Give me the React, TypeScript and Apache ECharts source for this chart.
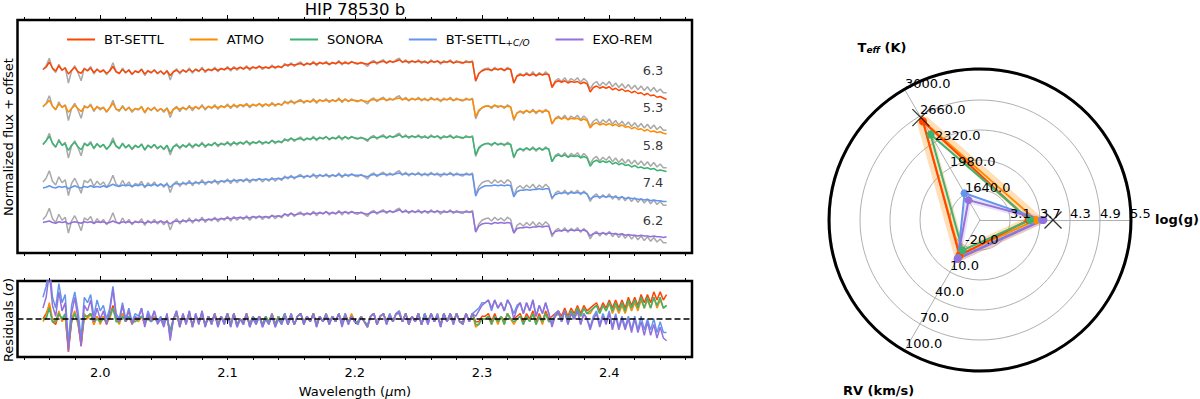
import React, { useEffect, useRef } from 'react';
import * as echarts from 'echarts';

const FONT = 'DejaVu Sans';
const MODELS = ['BT-SETTL', 'ATMO', 'SONORA', 'BT-SETTL+C/O', 'EXO-REM'];
const COLORS = ['#ff4500', '#ff8c00', '#3cb371', '#6495ed', '#9370db'];
const GREY = '#a9a9a9';
const OFFSETS = [2.0, 1.5, 1.0, 0.5, 0.0];
const CHI2 = ['6.3', '5.3', '5.8', '7.4', '6.2'];

const WL_START = 1.955;
const WL_STEP = 0.0025;
const X_MIN = 1.935;
const X_MAX = 2.465;
const MAJOR_TICKS = [2.0, 2.1, 2.2, 2.3, 2.4];
const MINOR_TICKS = [1.94, 1.96, 1.98, 2.0, 2.02, 2.04, 2.06, 2.08, 2.1, 2.12, 2.14, 2.16, 2.18, 2.2, 2.22, 2.24, 2.26, 2.28, 2.3, 2.32, 2.34, 2.36, 2.38, 2.4, 2.42, 2.44, 2.46];

const OBS = [
  0.90, 0.95, 1.05, 0.91, 0.86, 0.97, 0.89, 0.93, 0.72, 0.88, 0.95, 0.86, 0.75, 0.92, 0.89, 0.94, 0.84, 0.91, 0.86, 0.90,
  0.83, 0.89, 0.99, 0.87, 0.84, 0.92, 0.85, 0.90, 0.83, 0.88, 0.86, 0.91, 0.82, 0.89, 0.85, 0.90, 0.84, 0.88, 0.83, 0.89,
  0.76, 0.87, 0.91, 0.84, 0.90, 0.86, 0.92, 0.85, 0.91, 0.87, 0.93, 0.86, 0.91, 0.88, 0.93, 0.87, 0.92, 0.89, 0.94, 0.88,
  0.94, 0.89, 0.93, 0.90, 0.95, 0.89, 0.94, 0.91, 0.95, 0.90, 0.94, 0.91, 0.96, 0.91, 0.95, 0.92, 0.98, 0.94, 0.99, 0.94,
  0.98, 1.00, 0.95, 0.99, 0.96, 1.01, 0.95, 1.00, 0.97, 1.01, 0.96, 1.00, 0.97, 1.02, 0.96, 1.01, 0.97, 1.01, 0.98, 0.97,
  1.00, 0.97, 0.94, 1.00, 1.02, 0.97, 1.01, 1.03, 0.98, 1.02, 0.99, 1.03, 1.05, 0.99, 1.03, 0.98, 1.02, 0.99, 1.03, 0.98,
  1.02, 0.98, 1.03, 0.99, 1.02, 0.97, 1.02, 0.99, 1.03, 0.98, 1.02, 0.99, 0.98, 1.02, 0.99, 1.02, 0.74, 0.84, 0.89, 0.91,
  0.92, 0.88, 0.93, 0.89, 0.92, 0.88, 0.93, 0.90, 0.72, 0.82, 0.85, 0.81, 0.86, 0.82, 0.87, 0.81, 0.86, 0.82, 0.87, 0.83,
  0.67, 0.75, 0.78, 0.74, 0.79, 0.73, 0.78, 0.75, 0.79, 0.73, 0.78, 0.74, 0.64, 0.71, 0.74, 0.68, 0.73, 0.69, 0.74, 0.67,
  0.72, 0.66, 0.71, 0.65, 0.70, 0.64, 0.69, 0.63, 0.68, 0.62, 0.67, 0.61, 0.66, 0.60, 0.64, 0.59, 0.59];

const BT_SETTL = [
  0.90, 0.93, 1.00, 0.92, 0.88, 0.95, 0.89, 0.92, 0.84, 0.89, 0.93, 0.87, 0.85, 0.91, 0.88, 0.92, 0.86, 0.90, 0.87, 0.89,
  0.85, 0.88, 0.94, 0.87, 0.85, 0.90, 0.86, 0.89, 0.84, 0.88, 0.86, 0.90, 0.84, 0.88, 0.86, 0.89, 0.85, 0.88, 0.84, 0.88,
  0.82, 0.87, 0.89, 0.86, 0.89, 0.87, 0.90, 0.87, 0.90, 0.88, 0.91, 0.88, 0.90, 0.89, 0.91, 0.89, 0.91, 0.90, 0.92, 0.90,
  0.92, 0.91, 0.93, 0.91, 0.93, 0.91, 0.93, 0.92, 0.94, 0.92, 0.93, 0.92, 0.94, 0.93, 0.94, 0.93, 0.96, 0.96, 0.97, 0.96,
  0.97, 0.98, 0.96, 0.98, 0.97, 0.99, 0.97, 0.99, 0.98, 0.99, 0.97, 0.99, 0.98, 1.00, 0.98, 0.99, 0.98, 1.00, 0.99, 0.98,
  0.99, 0.98, 0.97, 0.99, 1.00, 0.99, 1.00, 1.01, 0.99, 1.01, 1.00, 1.01, 1.03, 1.00, 1.01, 1.00, 1.01, 1.00, 1.01, 1.00,
  1.00, 0.99, 1.01, 1.00, 1.01, 0.99, 1.00, 1.00, 1.01, 0.99, 1.00, 1.00, 0.99, 1.00, 1.00, 1.00, 0.75, 0.85, 0.88, 0.90,
  0.90, 0.89, 0.91, 0.90, 0.91, 0.89, 0.91, 0.90, 0.72, 0.81, 0.83, 0.82, 0.84, 0.82, 0.84, 0.82, 0.84, 0.83, 0.84, 0.83,
  0.66, 0.73, 0.75, 0.73, 0.75, 0.72, 0.74, 0.73, 0.74, 0.71, 0.73, 0.71, 0.60, 0.66, 0.68, 0.65, 0.67, 0.65, 0.67, 0.63,
  0.65, 0.62, 0.64, 0.61, 0.62, 0.59, 0.61, 0.58, 0.59, 0.56, 0.58, 0.55, 0.56, 0.53, 0.54, 0.52, 0.50];

const ATMO = [
  0.91, 0.94, 0.99, 0.91, 0.87, 0.94, 0.90, 0.92, 0.83, 0.88, 0.92, 0.88, 0.84, 0.90, 0.89, 0.92, 0.86, 0.90, 0.88, 0.89,
  0.84, 0.89, 0.95, 0.87, 0.86, 0.90, 0.86, 0.89, 0.85, 0.88, 0.87, 0.90, 0.83, 0.89, 0.86, 0.89, 0.85, 0.88, 0.85, 0.88,
  0.81, 0.87, 0.89, 0.87, 0.89, 0.87, 0.90, 0.88, 0.90, 0.88, 0.91, 0.88, 0.91, 0.89, 0.91, 0.89, 0.91, 0.90, 0.92, 0.90,
  0.92, 0.91, 0.93, 0.92, 0.93, 0.91, 0.93, 0.92, 0.94, 0.92, 0.94, 0.92, 0.94, 0.93, 0.94, 0.93, 0.96, 0.96, 0.97, 0.96,
  0.97, 0.98, 0.97, 0.98, 0.97, 0.99, 0.97, 0.99, 0.98, 0.99, 0.98, 0.99, 0.98, 1.00, 0.98, 1.00, 0.98, 0.99, 0.99, 0.98,
  0.99, 0.98, 0.97, 0.99, 1.00, 0.99, 1.00, 1.01, 0.99, 1.00, 1.00, 1.01, 1.02, 1.00, 1.01, 0.99, 1.01, 1.00, 1.01, 1.00,
  1.00, 0.99, 1.01, 1.00, 1.00, 0.99, 1.00, 1.00, 1.01, 0.99, 1.00, 1.00, 0.99, 1.00, 1.00, 1.00, 0.77, 0.86, 0.89, 0.91,
  0.91, 0.90, 0.92, 0.91, 0.91, 0.90, 0.91, 0.90, 0.74, 0.82, 0.84, 0.83, 0.85, 0.83, 0.85, 0.83, 0.85, 0.84, 0.85, 0.84,
  0.68, 0.74, 0.76, 0.74, 0.76, 0.73, 0.75, 0.74, 0.75, 0.72, 0.74, 0.72, 0.62, 0.67, 0.69, 0.66, 0.68, 0.66, 0.68, 0.65,
  0.67, 0.64, 0.66, 0.63, 0.64, 0.61, 0.63, 0.60, 0.61, 0.58, 0.60, 0.57, 0.58, 0.56, 0.57, 0.55, 0.54];

const SONORA = [
  0.90, 0.95, 1.01, 0.92, 0.87, 0.95, 0.89, 0.91, 0.82, 0.89, 0.93, 0.87, 0.83, 0.91, 0.88, 0.92, 0.85, 0.91, 0.87, 0.90,
  0.84, 0.88, 0.95, 0.88, 0.85, 0.91, 0.86, 0.89, 0.84, 0.89, 0.86, 0.90, 0.83, 0.89, 0.86, 0.90, 0.85, 0.88, 0.84, 0.89,
  0.80, 0.87, 0.89, 0.86, 0.89, 0.87, 0.90, 0.87, 0.90, 0.88, 0.91, 0.88, 0.90, 0.89, 0.92, 0.89, 0.91, 0.90, 0.92, 0.90,
  0.92, 0.91, 0.93, 0.91, 0.94, 0.91, 0.93, 0.92, 0.94, 0.92, 0.93, 0.92, 0.95, 0.93, 0.94, 0.93, 0.96, 0.96, 0.98, 0.96,
  0.97, 0.98, 0.96, 0.98, 0.97, 0.99, 0.97, 0.99, 0.98, 1.00, 0.97, 0.99, 0.98, 1.00, 0.98, 1.00, 0.98, 1.00, 0.99, 0.98,
  0.99, 0.98, 0.96, 0.99, 1.00, 0.99, 1.00, 1.01, 0.99, 1.01, 1.00, 1.01, 1.03, 1.00, 1.01, 1.00, 1.01, 1.00, 1.01, 1.00,
  1.00, 0.99, 1.01, 1.00, 1.01, 0.99, 1.00, 1.00, 1.01, 0.99, 1.00, 1.00, 0.99, 1.00, 1.00, 1.00, 0.76, 0.86, 0.89, 0.91,
  0.91, 0.90, 0.92, 0.90, 0.91, 0.90, 0.91, 0.90, 0.73, 0.82, 0.84, 0.83, 0.85, 0.83, 0.85, 0.83, 0.85, 0.83, 0.85, 0.84,
  0.67, 0.74, 0.76, 0.74, 0.76, 0.73, 0.75, 0.74, 0.75, 0.72, 0.74, 0.72, 0.61, 0.67, 0.69, 0.66, 0.68, 0.66, 0.68, 0.64,
  0.66, 0.63, 0.65, 0.62, 0.63, 0.60, 0.62, 0.59, 0.60, 0.58, 0.59, 0.57, 0.58, 0.55, 0.56, 0.55, 0.54];

const BT_SETTL_CO = [
  0.82, 0.83, 0.85, 0.83, 0.82, 0.84, 0.83, 0.84, 0.81, 0.83, 0.85, 0.83, 0.82, 0.84, 0.83, 0.85, 0.83, 0.84, 0.83, 0.85,
  0.83, 0.85, 0.87, 0.85, 0.84, 0.86, 0.85, 0.86, 0.84, 0.86, 0.85, 0.87, 0.84, 0.86, 0.85, 0.87, 0.85, 0.87, 0.85, 0.87,
  0.83, 0.87, 0.88, 0.87, 0.88, 0.88, 0.89, 0.88, 0.89, 0.89, 0.90, 0.89, 0.90, 0.90, 0.91, 0.90, 0.91, 0.91, 0.92, 0.91,
  0.92, 0.92, 0.93, 0.92, 0.93, 0.92, 0.93, 0.93, 0.94, 0.93, 0.94, 0.93, 0.94, 0.94, 0.95, 0.94, 0.96, 0.96, 0.97, 0.96,
  0.97, 0.98, 0.97, 0.98, 0.97, 0.99, 0.98, 0.99, 0.98, 0.99, 0.98, 0.99, 0.98, 1.00, 0.98, 0.99, 0.99, 1.00, 0.99, 0.99,
  0.99, 0.98, 0.97, 0.99, 1.00, 0.99, 1.00, 1.01, 1.00, 1.00, 1.00, 1.01, 1.02, 1.00, 1.01, 1.00, 1.01, 1.00, 1.01, 1.00,
  1.00, 1.00, 1.01, 1.00, 1.00, 1.00, 1.00, 1.00, 1.01, 1.00, 1.00, 1.00, 1.00, 1.00, 1.00, 1.00, 0.71, 0.80, 0.83, 0.85,
  0.85, 0.85, 0.86, 0.85, 0.86, 0.85, 0.86, 0.85, 0.70, 0.77, 0.79, 0.79, 0.80, 0.79, 0.80, 0.80, 0.81, 0.80, 0.81, 0.81,
  0.69, 0.73, 0.75, 0.75, 0.76, 0.75, 0.76, 0.75, 0.76, 0.75, 0.76, 0.74, 0.67, 0.70, 0.71, 0.70, 0.71, 0.70, 0.71, 0.70,
  0.70, 0.69, 0.70, 0.68, 0.69, 0.68, 0.68, 0.67, 0.67, 0.66, 0.67, 0.65, 0.66, 0.65, 0.65, 0.64, 0.64];

const EXO_REM = [
  0.86, 0.87, 0.88, 0.86, 0.85, 0.87, 0.86, 0.87, 0.84, 0.86, 0.87, 0.86, 0.85, 0.87, 0.86, 0.87, 0.85, 0.87, 0.86, 0.87,
  0.85, 0.86, 0.88, 0.86, 0.85, 0.87, 0.86, 0.87, 0.85, 0.87, 0.86, 0.87, 0.85, 0.87, 0.86, 0.87, 0.86, 0.88, 0.86, 0.87,
  0.84, 0.87, 0.88, 0.87, 0.88, 0.88, 0.89, 0.88, 0.89, 0.89, 0.90, 0.89, 0.90, 0.90, 0.91, 0.90, 0.91, 0.91, 0.92, 0.91,
  0.92, 0.92, 0.93, 0.92, 0.93, 0.92, 0.94, 0.93, 0.94, 0.93, 0.94, 0.93, 0.95, 0.94, 0.95, 0.94, 0.97, 0.96, 0.98, 0.96,
  0.97, 0.98, 0.97, 0.98, 0.97, 0.99, 0.98, 0.99, 0.98, 1.00, 0.98, 0.99, 0.98, 1.00, 0.99, 1.00, 0.99, 1.00, 0.99, 0.99,
  0.99, 0.98, 0.97, 0.99, 1.00, 0.99, 1.00, 1.01, 1.00, 1.01, 1.00, 1.01, 1.03, 1.00, 1.01, 1.00, 1.01, 1.00, 1.01, 1.00,
  1.01, 1.00, 1.01, 1.00, 1.01, 1.00, 1.00, 1.00, 1.01, 1.00, 1.00, 1.00, 1.00, 1.00, 1.00, 1.00, 0.73, 0.81, 0.84, 0.85,
  0.85, 0.84, 0.86, 0.85, 0.86, 0.85, 0.86, 0.85, 0.72, 0.78, 0.79, 0.79, 0.80, 0.79, 0.80, 0.80, 0.81, 0.80, 0.81, 0.81,
  0.70, 0.74, 0.75, 0.75, 0.76, 0.75, 0.76, 0.75, 0.76, 0.75, 0.76, 0.74, 0.68, 0.71, 0.72, 0.71, 0.72, 0.71, 0.72, 0.71,
  0.71, 0.70, 0.71, 0.69, 0.70, 0.69, 0.69, 0.68, 0.69, 0.68, 0.68, 0.67, 0.68, 0.67, 0.67, 0.66, 0.67];

const MODEL_SPECTRA = [BT_SETTL, ATMO, SONORA, BT_SETTL_CO, EXO_REM];
const SIGMA = 0.02;

// Radar (fitted parameters)
const TEFF = [2590, 2600, 2420, 1650, 1560];
const LOGG = [3.47, 3.62, 3.50, 3.74, 3.77];
const RV = [-9, -10, -15, -6, -5];
const REF_TEFF = 2640;
const REF_LOGG = 3.96;
const TEFF_RANGE = [1300, 3000];
const LOGG_RANGE = [2.5, 5.5];
const RV_RANGE = [-50, 100];
const TEFF_TICKS = ['1640.0', '1980.0', '2320.0', '2660.0', '3000.0'];
const LOGG_TICKS = ['3.1', '3.7', '4.3', '4.9', '5.5'];
const RV_TICKS = ['-20.0', '10.0', '40.0', '70.0', '100.0'];

const CX = 980, CY = 220, RAD = 150;

function buildOption(): any {
  const WAVE = OBS.map((_, i) => +(WL_START + i * WL_STEP).toFixed(4));
  const L = 17.5, W = 674.5;
  const noLabel = { show: false };
  const mkX = (gridIndex: number, position: string, ticks: number[], len: number, labels = false) => ({
    type: 'value', gridIndex, position, min: X_MIN, max: X_MAX,
    axisLine: { show: false },
    splitLine: { show: false },
    axisTick: { show: true, customValues: ticks, length: len, inside: false, lineStyle: { color: '#000', width: 1 } },
    axisLabel: labels
      ? { show: true, customValues: MAJOR_TICKS, formatter: (v: number) => v.toFixed(1), fontSize: 13, color: '#000', fontFamily: FONT, margin: 9 }
      : noLabel,
  });

  const series: any[] = [];
  MODEL_SPECTRA.forEach((_, k) => {
    series.push({
      type: 'line', name: 'observed', xAxisIndex: 0, yAxisIndex: 0, symbol: 'none', silent: true,
      data: WAVE.map((w, i) => [w, OBS[i] + OFFSETS[k]]),
      lineStyle: { color: GREY, width: 1.5 }, itemStyle: { color: GREY }, z: 2,
    });
  });
  MODEL_SPECTRA.forEach((m, k) => {
    series.push({
      type: 'line', name: MODELS[k], xAxisIndex: 0, yAxisIndex: 0, symbol: 'none',
      data: WAVE.map((w, i) => [w, m[i] + OFFSETS[k]]),
      lineStyle: { color: COLORS[k], width: 1.5 }, itemStyle: { color: COLORS[k] }, z: 3,
    });
  });
  series.push({
    type: 'scatter', xAxisIndex: 0, yAxisIndex: 0, symbolSize: 1, silent: true,
    data: CHI2.map((c, k) => [2.4344, OFFSETS[k] + 0.89, c]),
    itemStyle: { color: 'rgba(0,0,0,0)' },
    label: { show: true, position: 'inside', formatter: (p: any) => p.data[2], fontSize: 13, color: '#000', fontFamily: FONT },
    z: 6,
  });
  MODEL_SPECTRA.forEach((m, k) => {
    series.push({
      type: 'line', name: MODELS[k], xAxisIndex: 4, yAxisIndex: 2, symbol: 'none',
      data: WAVE.map((w, i) => [w, (OBS[i] - m[i]) / SIGMA]),
      lineStyle: { color: COLORS[k], width: 1.5 }, itemStyle: { color: COLORS[k] }, z: 3,
    });
  });
  series.push({
    type: 'line', xAxisIndex: 4, yAxisIndex: 2, symbol: 'none', silent: true,
    data: [[X_MIN, 0], [X_MAX, 0]],
    lineStyle: { color: '#000', width: 1.5, type: [6, 3] }, z: 5,
  });

  // radar: indicator order [Teff, RV, log(g)]
  series.push({
    type: 'radar', radarIndex: 0, symbol: 'none', silent: true, z: 1,
    data: [{ value: [TEFF[1], RV[1], LOGG[1]] }],
    lineStyle: { color: COLORS[1], width: 12, opacity: 0.28, join: 'round' },
  });
  series.push({
    type: 'radar', radarIndex: 0, symbol: 'none', silent: true, z: 1,
    data: [{ value: [TEFF[4], RV[4], LOGG[4]] }],
    lineStyle: { color: COLORS[4], width: 6, opacity: 0.2, join: 'round' },
  });
  [1, 0, 2, 3, 4].forEach((k) => {
    series.push({
      type: 'radar', radarIndex: 0, name: 'fit ' + MODELS[k], symbol: 'circle', symbolSize: 8, z: 2,
      data: [{ value: [TEFF[k], RV[k], LOGG[k]] }],
      lineStyle: { color: COLORS[k], width: 2 },
      itemStyle: { color: COLORS[k] },
    });
  });
  series.push({
    type: 'scatter', coordinateSystem: 'polar', polarIndex: 0, silent: true, z: 10,
    data: [
      [(REF_TEFF - TEFF_RANGE[0]) / (TEFF_RANGE[1] - TEFF_RANGE[0]), 120],
      [(REF_LOGG - LOGG_RANGE[0]) / (LOGG_RANGE[1] - LOGG_RANGE[0]), 0],
    ],
    symbol: 'path://M0,0L10,10M10,0L0,10', symbolSize: 17,
    itemStyle: { color: 'rgba(0,0,0,0)', borderColor: '#000', borderWidth: 1.3 },
  });

  const graphic: any[] = [
    { type: 'text', x: 355, y: 9, z: 100, style: { text: 'HIP 78530 b', fontSize: 16.5, fontFamily: FONT, fill: '#000', align: 'center', verticalAlign: 'middle' } },
    { type: 'text', x: 8, y: 137, rotation: Math.PI / 2, z: 100, style: { text: 'Normalized flux + offset', fontSize: 13, fontFamily: FONT, fill: '#000', align: 'center', verticalAlign: 'middle' } },
    { type: 'text', x: 8, y: 320, rotation: Math.PI / 2, z: 100, style: { text: 'Residuals ({i|σ})', fontSize: 13, fontFamily: FONT, fill: '#000', align: 'center', verticalAlign: 'middle', rich: { i: { fontSize: 13, fontStyle: 'italic', fontFamily: FONT, fill: '#000' } } } },
    { type: 'text', x: 355, y: 391, z: 100, style: { text: 'Wavelength ({i|μ}m)', fontSize: 13, fontFamily: FONT, fill: '#000', align: 'center', verticalAlign: 'middle', rich: { i: { fontSize: 13, fontStyle: 'italic', fontFamily: FONT, fill: '#000' } } } },
    { type: 'circle', z: 50, shape: { cx: CX, cy: CY, r: 151 }, style: { fill: 'none', stroke: '#000', lineWidth: 3 } },
    { type: 'text', x: 882, y: 47, z: 100, style: { text: '{b|T}{s|eff}{b| (K)}', align: 'center', verticalAlign: 'middle', rich: { b: { fontSize: 13, fontWeight: 'bold', fontFamily: FONT, fill: '#000' }, s: { fontSize: 9, fontStyle: 'italic', fontWeight: 'bold', fontFamily: FONT, fill: '#000', padding: [6, 0, 0, 0] } } } },
    { type: 'text', x: 1155, y: 219, z: 100, style: { text: 'log(g)', fontSize: 13, fontWeight: 'bold', fontFamily: FONT, fill: '#000', align: 'left', verticalAlign: 'middle' } },
    { type: 'text', x: 843, y: 390, z: 100, style: { text: 'RV (km/s)', fontSize: 13, fontWeight: 'bold', fontFamily: FONT, fill: '#000', align: 'left', verticalAlign: 'middle' } },
  ];
  const axisDefs: [number, string[]][] = [[120, TEFF_TICKS], [0, LOGG_TICKS], [240, RV_TICKS]];
  axisDefs.forEach(([deg, ticks]) => {
    const a = (deg * Math.PI) / 180;
    ticks.forEach((t, k) => {
      const r = (RAD * (k + 1)) / ticks.length;
      graphic.push({
        type: 'text', z: 100,
        x: CX + r * Math.cos(a), y: CY - r * Math.sin(a),
        style: { text: t, fontSize: 13, fontFamily: FONT, fill: '#000', align: 'left', verticalAlign: 'bottom' },
      });
    });
  });

  return {
    animation: false,
    textStyle: { fontFamily: FONT },
    legend: {
      data: MODELS, left: 62, top: 28, icon: 'rect', itemWidth: 28, itemHeight: 2, itemGap: 26,
      textStyle: {
        fontSize: 13, color: '#000', fontFamily: FONT, padding: [0, 0, 0, 4],
        rich: { sub: { fontSize: 9, fontStyle: 'italic', fontFamily: FONT, color: '#000', padding: [7, 0, 0, 0] } },
      },
      formatter: (n: string) => (n === 'BT-SETTL+C/O' ? 'BT-SETTL{sub|+C/O}' : n),
    },
    grid: [
      { left: L, top: 20, width: W, height: 233, show: true, borderColor: '#000', borderWidth: 2.5, backgroundColor: 'rgba(0,0,0,0)' },
      { left: L, top: 20, width: W, height: 233, show: false },
      { left: L, top: 281, width: W, height: 76, show: true, borderColor: '#000', borderWidth: 2.5, backgroundColor: 'rgba(0,0,0,0)' },
      { left: L, top: 281, width: W, height: 76, show: false },
    ],
    xAxis: [
      mkX(0, 'bottom', MAJOR_TICKS, 5),
      mkX(0, 'top', MAJOR_TICKS, 5),
      mkX(1, 'bottom', MINOR_TICKS, 3),
      mkX(1, 'top', MINOR_TICKS, 3),
      mkX(2, 'bottom', MAJOR_TICKS, 5, true),
      mkX(2, 'top', MAJOR_TICKS, 5),
      mkX(3, 'bottom', MINOR_TICKS, 3),
      mkX(3, 'top', MINOR_TICKS, 3),
    ],
    yAxis: [
      { type: 'value', gridIndex: 0, min: 0.453, max: 3.56, show: false },
      { type: 'value', gridIndex: 1, min: 0, max: 1, show: false },
      { type: 'value', gridIndex: 2, min: -7, max: 7, show: false },
      { type: 'value', gridIndex: 3, min: 0, max: 1, show: false },
    ],
    radar: {
      center: [CX, CY], radius: RAD, startAngle: 120, shape: 'circle', splitNumber: 5,
      indicator: [
        { name: 'Teff', min: TEFF_RANGE[0], max: TEFF_RANGE[1] },
        { name: 'RV', min: RV_RANGE[0], max: RV_RANGE[1] },
        { name: 'log(g)', min: LOGG_RANGE[0], max: LOGG_RANGE[1] },
      ],
      axisName: { show: false },
      axisLine: { lineStyle: { color: '#b0b0b0', width: 1 } },
      splitLine: { lineStyle: { color: '#b0b0b0', width: 1 } },
      splitArea: { show: false },
      axisTick: { show: false },
      axisLabel: { show: false },
    },
    polar: { center: [CX, CY], radius: RAD },
    angleAxis: { type: 'value', polarIndex: 0, min: 0, max: 360, startAngle: 0, clockwise: false, show: false },
    radiusAxis: { type: 'value', polarIndex: 0, min: 0, max: 1, show: false },
    series,
    graphic,
  };
}

export default function App() {
  const ref = useRef<HTMLDivElement>(null);
  useEffect(() => {
    if (!ref.current) return;
    const chart = echarts.init(ref.current, null, { renderer: 'svg' });
    chart.setOption(buildOption());
    return () => chart.dispose();
  }, []);
  return <div ref={ref} style={{ position: 'fixed', left: 0, top: 0, width: 1200, height: 399, background: '#fff' }} />;
}
